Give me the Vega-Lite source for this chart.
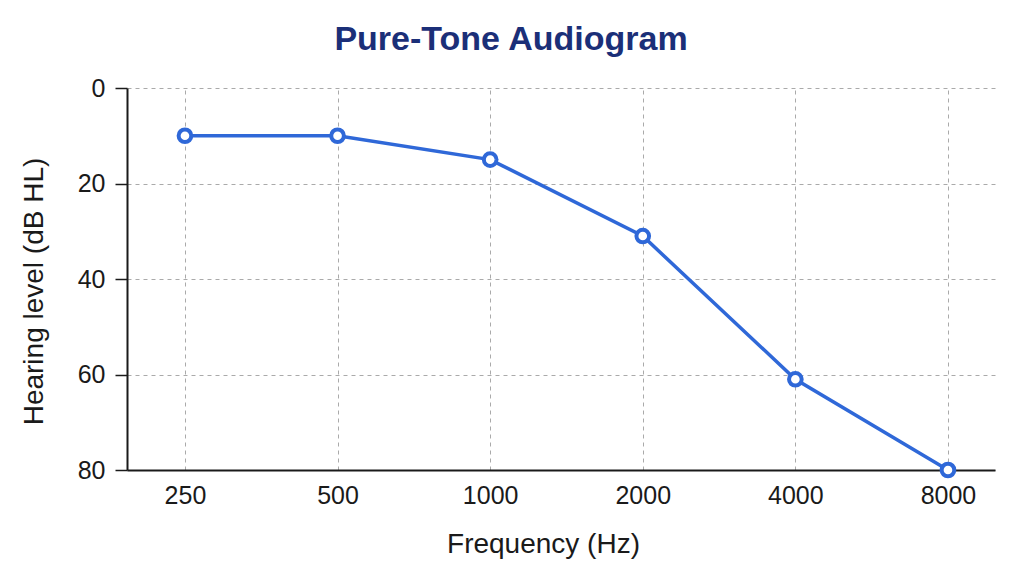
{
  "$schema": "https://vega.github.io/schema/vega-lite/v6.json",
  "autosize": "none",
  "width": 868,
  "height": 382,
  "padding": {"left": 127, "top": 88, "right": 29, "bottom": 106},
  "background": "white",
  "title": {
    "text": "Pure-Tone Audiogram",
    "font": "Liberation Sans",
    "fontSize": 34,
    "fontWeight": "bold",
    "color": "#1b2f78",
    "anchor": "middle",
    "dx": -50,
    "offset": 19
  },
  "data": {
    "values": [
      {"frequency": "250", "level": 10},
      {"frequency": "500", "level": 10},
      {"frequency": "1000", "level": 15},
      {"frequency": "2000", "level": 31},
      {"frequency": "4000", "level": 61},
      {"frequency": "8000", "level": 80}
    ]
  },
  "encoding": {
    "x": {
      "field": "frequency",
      "type": "ordinal",
      "sort": ["250", "500", "1000", "2000", "4000", "8000"],
      "scale": {"type": "point", "padding": 0.344, "align": 0.552},
      "axis": {
        "title": "Frequency (Hz)",
        "titleFont": "Liberation Sans",
        "titleFontSize": 28,
        "titleFontWeight": "normal",
        "titleColor": "#1a1a1a",
        "titlePadding": 22,
        "titleX": 416,
        "labelAngle": 0,
        "labelFont": "Liberation Sans",
        "labelFontSize": 25,
        "labelColor": "#1a1a1a",
        "labelPadding": 13,
        "ticks": false,
        "domainColor": "#1a1a1a",
        "domainWidth": 2,
        "grid": true,
        "gridColor": "#aaaaaa",
        "gridDash": [4, 4],
        "gridWidth": 1
      }
    },
    "y": {
      "field": "level",
      "type": "quantitative",
      "scale": {"domain": [0, 80], "reverse": true, "nice": false},
      "axis": {
        "title": "Hearing level (dB HL)",
        "titleFont": "Liberation Sans",
        "titleFontSize": 28,
        "titleFontWeight": "normal",
        "titleColor": "#1a1a1a",
        "titlePadding": 29,
        "titleY": 203,
        "values": [0, 20, 40, 60, 80],
        "labelFont": "Liberation Sans",
        "labelFontSize": 25,
        "labelColor": "#1a1a1a",
        "labelPadding": 10,
        "tickSize": 12,
        "tickColor": "#1a1a1a",
        "tickWidth": 1.5,
        "domainColor": "#1a1a1a",
        "domainWidth": 2,
        "grid": true,
        "gridColor": "#aaaaaa",
        "gridDash": [4, 4],
        "gridWidth": 1
      }
    }
  },
  "layer": [
    {"mark": {"type": "line", "color": "#2f68d8", "strokeWidth": 3.5}},
    {
      "mark": {
        "type": "point",
        "shape": "circle",
        "filled": true,
        "fill": "white",
        "stroke": "#2f68d8",
        "strokeWidth": 4,
        "size": 160,
        "opacity": 1
      }
    }
  ],
  "config": {"view": {"stroke": null}}
}
